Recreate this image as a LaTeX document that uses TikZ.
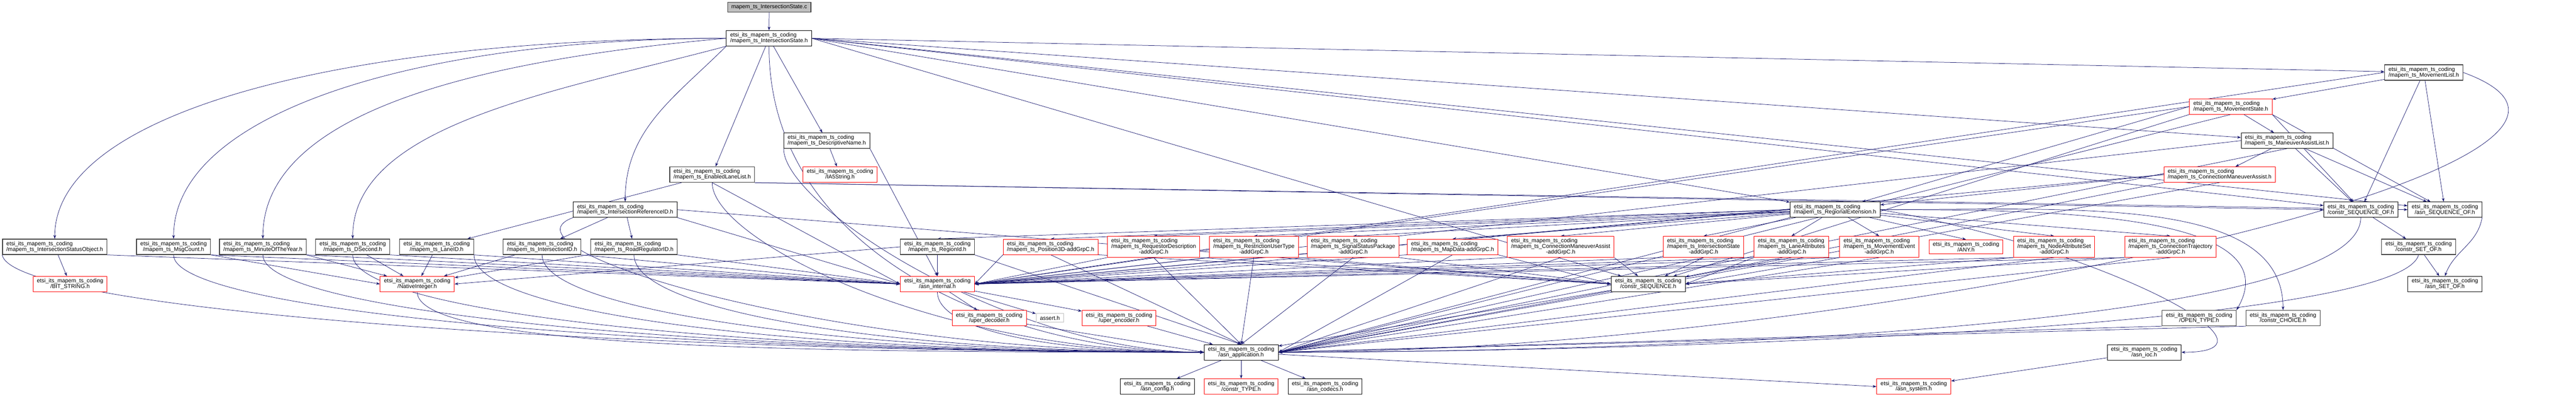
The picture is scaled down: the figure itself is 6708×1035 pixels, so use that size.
\documentclass[tikz,border=0pt]{standalone}
\usepackage{fontspec}
\setmainfont{Liberation Sans}
\usepackage{xcolor}
\usepackage{tikz}
\usetikzlibrary{arrows.meta, backgrounds}
\definecolor{edgeblue}{HTML}{191970}
\definecolor{darkframe}{HTML}{404040}
\definecolor{rootgrey}{HTML}{BFBFBF}
\definecolor{truncred}{HTML}{FF0000}

\begin{document}
\begin{tikzpicture}[
    x=0.2pt, y=0.2pt,
    header/.style={rectangle, draw=black, line width=0.22pt, fill=white, inner xsep=2pt, inner ysep=1.2pt, font=\fontsize{2.92}{2.92}\selectfont, align=center},
    lefttext/.style={align=left},
    darkhdr/.style={draw=darkframe, line width=0.36pt},
    trunchdr/.style={draw=truncred, line width=0.26pt},
    rootfile/.style={header, fill=rootgrey, draw=darkframe, line width=0.3pt},
    sysfile/.style={header, draw=rootgrey},
    arrow/.style={-{Stealth[length=2pt, width=1.4pt]}, line width=0.2pt, color=edgeblue},
    toapp/.style={out=-90, in=180, out distance=30pt, in distance=#1}
]
\useasboundingbox (0,0) rectangle (6708,-1035);

% source file and its header
\node[rootfile] (isc) at (2003,-18.5) {mapem\_ts\_IntersectionState.c};
\node[header, lefttext] (ish) at (2002.5,-100) {etsi\_its\_mapem\_ts\_coding\\/mapem\_ts\_IntersectionState.h};

% upper headers
\node[header, darkhdr, lefttext] (ml) at (6311.5,-189) {etsi\_its\_mapem\_ts\_coding\\/mapem\_ts\_MovementList.h};
\node[header, trunchdr, lefttext] (ms) at (5809,-278) {etsi\_its\_mapem\_ts\_coding\\/mapem\_ts\_MovementState.h};
\node[header, lefttext] (dn) at (2153,-367) {etsi\_its\_mapem\_ts\_coding\\/mapem\_ts\_DescriptiveName.h};
\node[header, lefttext] (mal) at (5955.5,-367) {etsi\_its\_mapem\_ts\_coding\\/mapem\_ts\_ManeuverAssistList.h};
\node[header, darkhdr, lefttext] (ell) at (1854.5,-455.5) {etsi\_its\_mapem\_ts\_coding\\/mapem\_ts\_EnabledLaneList.h};
\node[header, trunchdr] (ia5) at (2187.5,-455.5) {etsi\_its\_mapem\_ts\_coding\\/IA5String.h};
\node[header, trunchdr, lefttext] (cma) at (5780,-455.5) {etsi\_its\_mapem\_ts\_coding\\/mapem\_ts\_ConnectionManeuverAssist.h};
\node[header, lefttext] (irid) at (1628,-547) {etsi\_its\_mapem\_ts\_coding\\/mapem\_ts\_IntersectionReferenceID.h};
\node[header, lefttext] (re) at (4778.5,-547) {etsi\_its\_mapem\_ts\_coding\\/mapem\_ts\_RegionalExtension.h};
\node[header] (cso) at (6147.5,-547) {etsi\_its\_mapem\_ts\_coding\\/constr\_SEQUENCE\_OF.h};
\node[header] (aso) at (6366.5,-547) {etsi\_its\_mapem\_ts\_coding\\/asn\_SEQUENCE\_OF.h};

% type headers
\node[header, darkhdr, lefttext] (iso) at (142.5,-644) {etsi\_its\_mapem\_ts\_coding\\/mapem\_ts\_IntersectionStatusObject.h};
\node[header, darkhdr] (msgc) at (452,-644) {etsi\_its\_mapem\_ts\_coding\\/mapem\_ts\_MsgCount.h};
\node[header, darkhdr, lefttext] (moy) at (684.5,-644) {etsi\_its\_mapem\_ts\_coding\\/mapem\_ts\_MinuteOfTheYear.h};
\node[header, darkhdr] (dsec) at (918.5,-644) {etsi\_its\_mapem\_ts\_coding\\/mapem\_ts\_DSecond.h};
\node[header, darkhdr] (laneid) at (1137,-644) {etsi\_its\_mapem\_ts\_coding\\/mapem\_ts\_LaneID.h};
\node[header, darkhdr, lefttext] (iid) at (1411.5,-644) {etsi\_its\_mapem\_ts\_coding\\/mapem\_ts\_IntersectionID.h};
\node[header, darkhdr, lefttext] (rrid) at (1651,-644) {etsi\_its\_mapem\_ts\_coding\\/mapem\_ts\_RoadRegulatorID.h};
\node[header, darkhdr] (regid) at (2441,-644) {etsi\_its\_mapem\_ts\_coding\\/mapem\_ts\_RegionId.h};
\node[header, trunchdr, lefttext] (pos3d) at (2736,-644) {etsi\_its\_mapem\_ts\_coding\\/mapem\_ts\_Position3D-addGrpC.h};
\node[header, trunchdr, lefttext] (reqd) at (3004,-644) {etsi\_its\_mapem\_ts\_coding\\/mapem\_ts\_RequestorDescription\\\null\hfil -addGrpC.h};
\node[header, trunchdr, lefttext] (rut) at (3265,-644) {etsi\_its\_mapem\_ts\_coding\\/mapem\_ts\_RestrictionUserType\\\null\hfil -addGrpC.h};
\node[header, trunchdr, lefttext] (ssp) at (3523.5,-644) {etsi\_its\_mapem\_ts\_coding\\/mapem\_ts\_SignalStatusPackage\\\null\hfil -addGrpC.h};
\node[header, trunchdr, lefttext] (mapd) at (3782.5,-644) {etsi\_its\_mapem\_ts\_coding\\/mapem\_ts\_MapData-addGrpC.h};
\node[header, trunchdr, lefttext] (cmaag) at (4064,-644) {etsi\_its\_mapem\_ts\_coding\\/mapem\_ts\_ConnectionManeuverAssist\\\null\hfil -addGrpC.h};
\node[header, trunchdr, lefttext] (isag) at (4436,-644) {etsi\_its\_mapem\_ts\_coding\\/mapem\_ts\_IntersectionState\\\null\hfil -addGrpC.h};
\node[header, trunchdr, lefttext] (laag) at (4665,-644) {etsi\_its\_mapem\_ts\_coding\\/mapem\_ts\_LaneAttributes\\\null\hfil -addGrpC.h};
\node[header, trunchdr, lefttext] (meag) at (4893.5,-644) {etsi\_its\_mapem\_ts\_coding\\/mapem\_ts\_MovementEvent\\\null\hfil -addGrpC.h};
\node[header, trunchdr] (any) at (5119.5,-644) {etsi\_its\_mapem\_ts\_coding\\/ANY.h};
\node[header, trunchdr, lefttext] (nas) at (5349,-644) {etsi\_its\_mapem\_ts\_coding\\/mapem\_ts\_NodeAttributeSet\\\null\hfil -addGrpC.h};
\node[header, trunchdr, lefttext] (ctag) at (5652,-644) {etsi\_its\_mapem\_ts\_coding\\/mapem\_ts\_ConnectionTrajectory\\\null\hfil -addGrpC.h};
\node[header, darkhdr] (cseto) at (6298,-644) {etsi\_its\_mapem\_ts\_coding\\/constr\_SET\_OF.h};

% support headers
\node[header, trunchdr] (bits) at (182.5,-741) {etsi\_its\_mapem\_ts\_coding\\/BIT\_STRING.h};
\node[header, trunchdr] (nint) at (1086.5,-741) {etsi\_its\_mapem\_ts\_coding\\/NativeInteger.h};
\node[header, trunchdr] (asni) at (2441,-741) {etsi\_its\_mapem\_ts\_coding\\/asn\_internal.h};
\node[header] (cseq) at (4292,-741) {etsi\_its\_mapem\_ts\_coding\\/constr\_SEQUENCE.h};
\node[header] (aseto) at (6366.5,-741) {etsi\_its\_mapem\_ts\_coding\\/asn\_SET\_OF.h};
\node[header, trunchdr] (uperd) at (2576,-830) {etsi\_its\_mapem\_ts\_coding\\/uper\_decoder.h};
\node[sysfile] (assrt) at (2734,-829.5) {assert.h};
\node[header, trunchdr] (upere) at (2914,-830) {etsi\_its\_mapem\_ts\_coding\\/uper\_encoder.h};
\node[header, darkhdr] (opent) at (5726.5,-830) {etsi\_its\_mapem\_ts\_coding\\/OPEN\_TYPE.h};
\node[header, darkhdr] (cchoice) at (5945,-830) {etsi\_its\_mapem\_ts\_coding\\/constr\_CHOICE.h};
\node[header] (asnapp) at (3232,-919) {etsi\_its\_mapem\_ts\_coding\\/asn\_application.h};
\node[header] (asnioc) at (5583.5,-919) {etsi\_its\_mapem\_ts\_coding\\/asn\_ioc.h};
\node[header] (asncfg) at (3013.5,-1008.5) {etsi\_its\_mapem\_ts\_coding\\/asn\_config.h};
\node[header, trunchdr] (ctype) at (3232,-1008.5) {etsi\_its\_mapem\_ts\_coding\\/constr\_TYPE.h};
\node[header] (asncod) at (3450.5,-1008.5) {etsi\_its\_mapem\_ts\_coding\\/asn\_codecs.h};
\node[header, trunchdr] (asnsys) at (4983.5,-1008.5) {etsi\_its\_mapem\_ts\_coding\\/asn\_system.h};

\begin{scope}[on background layer]
% includes of the source and its header
\draw[arrow] (isc) -- (ish);
\draw[arrow] (ish.west) to[out=180, in=90, out distance=200pt, in distance=66pt] (iso.north);
\draw[arrow] (ish.west) to[out=180, in=90, out distance=160pt, in distance=66pt] (msgc.north);
\draw[arrow] (ish.west) to[out=185, in=90, out distance=130pt, in distance=66pt] (moy.north);
\draw[arrow] (ish.south west) to[out=195, in=90, out distance=90pt, in distance=60pt] (dsec.north);
\draw[arrow] (ish.south west) to[out=-135, in=90] (irid.north);
\draw[arrow] (ish) -- (ell);
\draw[arrow] (ish) -- (dn);
\draw[arrow] (ish.south) to[out=-90, in=180, out distance=110pt, in distance=100pt] (asnapp.west);
\draw[arrow] (ish.east) -- (ml);
\draw[arrow] (ish.east) -- (mal);
\draw[arrow] (ish.east) -- (cso);
\draw[arrow] (ish.east) -- (aso);
\draw[arrow] (ish.east) -- (re);
\draw[arrow] (ish.east) -- (cseq);

% integer and bit string types
\draw[arrow] (iso) -- (bits);
\draw[arrow] (iso.south east) -- (asni.west);
\draw[arrow] (iso.south west) to[out=-80, in=180, out distance=30pt, in distance=300pt] (asnapp.west);
\draw[arrow] (msgc.south east) -- (nint.west);
\draw[arrow] (msgc.south east) -- (asni.west);
\draw[arrow] (msgc.south) to[toapp=280pt] (asnapp.west);
\draw[arrow] (moy.south east) -- (nint);
\draw[arrow] (moy.south east) -- (asni.west);
\draw[arrow] (moy.south) to[toapp=260pt] (asnapp.west);
\draw[arrow] (dsec) -- (nint);
\draw[arrow] (dsec.south east) -- (asni.west);
\draw[arrow] (dsec.south) to[toapp=240pt] (asnapp.west);
\draw[arrow] (laneid) -- (nint);
\draw[arrow] (laneid.south east) -- (asni.west);
\draw[arrow] (laneid.south east) to[toapp=220pt] (asnapp.west);
\draw[arrow] (iid) -- (nint);
\draw[arrow] (iid.south east) -- (asni.west);
\draw[arrow] (iid.south) to[toapp=180pt] (asnapp.west);
\draw[arrow] (rrid) -- (nint);
\draw[arrow] (rrid.south east) -- (asni.west);
\draw[arrow] (rrid.south) to[toapp=160pt] (asnapp.west);
\draw[arrow] (nint.south) to[toapp=200pt] (asnapp.west);

% reference id, lane list, name
\draw[arrow] (irid) -- (iid);
\draw[arrow] (irid) -- (rrid);
\draw[arrow] (irid.south east) -- (asni.west);
\draw[arrow] (irid.east) -- (cseq.west);
\draw[arrow] (irid.south west) to[out=-160, in=180, out distance=46pt, in distance=200pt] (asnapp.west);
\draw[arrow] (ell) -- (laneid);
\draw[arrow] (ell.south) -- (asni.west);
\draw[arrow] (ell.south) to[toapp=140pt] (asnapp.west);
\draw[arrow] (ell.south east) -- (aso.west);
\draw[arrow] (ell.south east) -- (cso.west);
\draw[arrow] (dn) -- (ia5);
\draw[arrow] (dn.south east) -- (asni.north);
\draw[arrow] (dn.south west) to[toapp=100pt] (asnapp.west);

% movement headers
\draw[arrow] (ml) -- (ms);
\draw[arrow] (ml) -- (cso);
\draw[arrow] (ml) -- (aso);
\draw[arrow] (ml.west) -- (asni.east);
\draw[arrow] (ml.east) to[out=-20, in=0, out distance=140pt, in distance=300pt] (asnapp.east);
\draw[arrow] (ms) -- (mal);
\draw[arrow] (ms.west) -- (re);
\draw[arrow] (ms.west) -- (asni.east);
\draw[arrow] (ms.south east) -- (cso);
\draw[arrow] (ms.south east) -- (aso);
\draw[arrow] (ms.south west) -- (cseq);
\draw[arrow] (ms.south) -- (asnapp.east);
\draw[arrow] (mal) -- (cma);
\draw[arrow] (mal) -- (cso);
\draw[arrow] (mal) -- (aso);
\draw[arrow] (mal.west) -- (asni.east);
\draw[arrow] (mal.south) -- (asnapp.east);
\draw[arrow] (cma.west) -- (re);
\draw[arrow] (cma.west) -- (asni.east);
\draw[arrow] (cma.south west) -- (cseq);
\draw[arrow] (cma.south) -- (asnapp.east);

% regional extension
\draw[arrow] (re.west) -- (regid.north);
\draw[arrow] (re.west) -- (pos3d.north);
\draw[arrow] (re) -- (reqd.north);
\draw[arrow] (re) -- (rut.north);
\draw[arrow] (re) -- (ssp.north);
\draw[arrow] (re) -- (mapd.north);
\draw[arrow] (re) -- (cmaag.north);
\draw[arrow] (re) -- (isag.north);
\draw[arrow] (re) -- (laag.north);
\draw[arrow] (re) -- (meag.north);
\draw[arrow] (re) -- (any.north);
\draw[arrow] (re) -- (nas.north);
\draw[arrow] (re) -- (ctag.north);
\draw[arrow] (re.east) to[out=0, in=60, out distance=80pt, in distance=60pt] (opent.north east);
\draw[arrow] (re.east) to[out=0, in=90, out distance=100pt, in distance=60pt] (cchoice.north);
\draw[arrow] (re.east) to[out=-10, in=0, out distance=120pt, in distance=60pt] (asnioc.east);
\draw[arrow] (re.west) -- (asni.east);
\draw[arrow] (re.south west) -- (asnapp.east);

% addGrpC headers
\draw[arrow] (regid) -- (asni);
\draw[arrow] (regid.south east) -- (asnapp.north);
\draw[arrow] (regid.west) -- (nint.east);
\draw[arrow] (pos3d.south west) -- (asni.east);
\draw[arrow] (pos3d.south) -- (asnapp.north);
\draw[arrow] (pos3d.south east) -- (cseq.west);
\draw[arrow] (reqd.south west) -- (asni.east);
\draw[arrow] (reqd.south) -- (asnapp.north);
\draw[arrow] (reqd.south east) -- (cseq.west);
\draw[arrow] (rut.south west) -- (asni.east);
\draw[arrow] (rut.south) -- (asnapp.north);
\draw[arrow] (rut.south east) -- (cseq.west);
\draw[arrow] (ssp.south west) -- (asni.east);
\draw[arrow] (ssp.south) -- (asnapp.north);
\draw[arrow] (ssp.south east) -- (cseq.west);
\draw[arrow] (mapd.south west) -- (asni.east);
\draw[arrow] (mapd.south) -- (asnapp.east);
\draw[arrow] (mapd.south east) -- (cseq.west);
\draw[arrow] (cmaag.south west) -- (asni.east);
\draw[arrow] (cmaag.south) -- (asnapp.east);
\draw[arrow] (cmaag.south east) -- (cseq);
\draw[arrow] (isag.south west) -- (asni.east);
\draw[arrow] (isag.south) -- (asnapp.east);
\draw[arrow] (isag.south) -- (cseq);
\draw[arrow] (laag.south west) -- (asni.east);
\draw[arrow] (laag.south) -- (asnapp.east);
\draw[arrow] (laag.south west) -- (cseq.east);
\draw[arrow] (meag.south west) -- (asni.east);
\draw[arrow] (meag.south) -- (asnapp.east);
\draw[arrow] (meag.south west) -- (cseq.east);
\draw[arrow] (nas.south west) -- (asni.east);
\draw[arrow] (nas.south) -- (asnapp.east);
\draw[arrow] (nas.south west) -- (cseq.east);
\draw[arrow] (ctag.south west) -- (asni.east);
\draw[arrow] (ctag.south) -- (asnapp.east);
\draw[arrow] (ctag.south west) -- (cseq.east);

% asn1c runtime
\draw[arrow] (asni) -- (uperd);
\draw[arrow] (asni) -- (assrt);
\draw[arrow] (asni) -- (upere);
\draw[arrow] (asni.south) to[out=-90, in=180, out distance=20pt, in distance=80pt] (asnapp.west);
\draw[arrow] (uperd) -- (asnapp.west);
\draw[arrow] (upere) -- (asnapp);
\draw[arrow] (cseq) -- (asnapp);
\draw[arrow] (cso) -- (cseto);
\draw[arrow] (cso.south) to[out=-90, in=0, out distance=60pt, in distance=160pt] (asnapp.east);
\draw[arrow] (aso.south east) to[out=-100, in=70] (aseto.north);
\draw[arrow] (cseto) -- (aseto);
\draw[arrow] (cseto.south) to[out=-105, in=0, out distance=40pt, in distance=180pt] (asnapp.east);
\draw[arrow] (opent.south west) -- (asnapp.east);
\draw[arrow] (cchoice.south west) -- (asnapp.east);
\draw[arrow] (asnioc) -- (asnsys);
\draw[arrow] (asnapp) -- (asncfg);
\draw[arrow] (asnapp) -- (ctype);
\draw[arrow] (asnapp) -- (asncod);
\draw[arrow] (asnapp) -- (asnsys.west);
\end{scope}

\end{tikzpicture}
\end{document}
